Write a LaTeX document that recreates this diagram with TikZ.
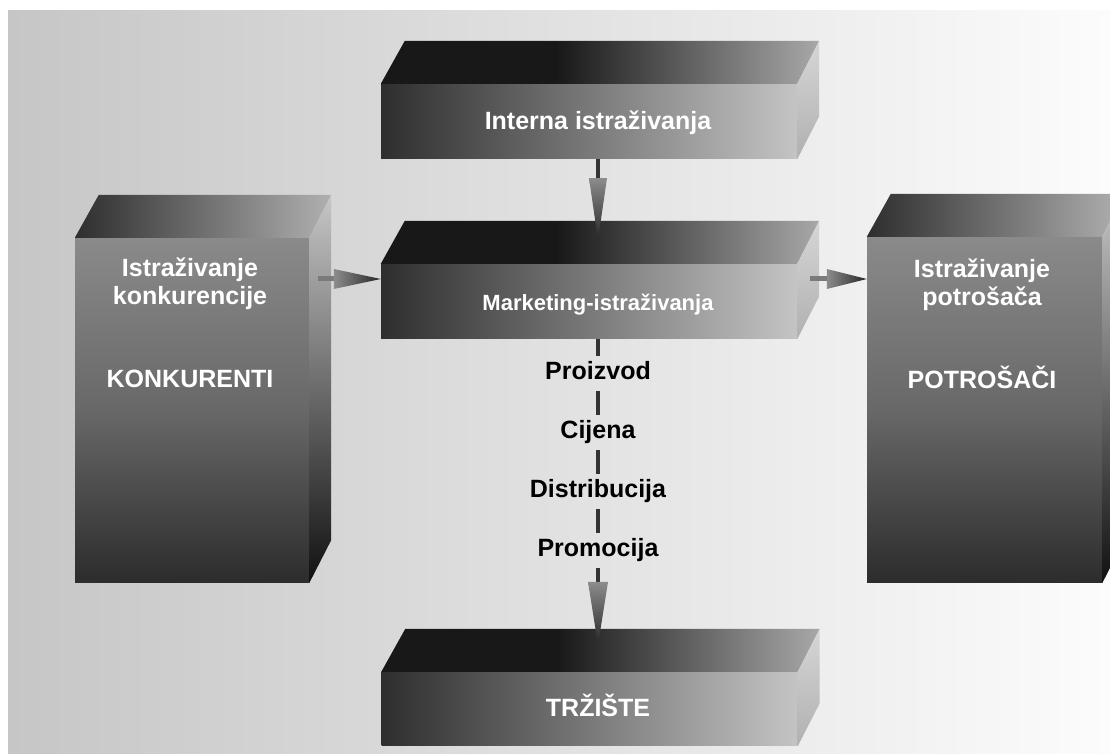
\documentclass[tikz,border=0pt]{standalone}
\usepackage{fontspec}
\setmainfont{Liberation Sans}
\usetikzlibrary{calc}
\definecolor{bgL}{HTML}{C6C6C6}
\definecolor{bgR}{HTML}{FCFCFC}
\definecolor{hfL}{HTML}{2E2E2E}
\definecolor{hfR}{HTML}{C4C4C4}
\definecolor{htA}{HTML}{181818}
\definecolor{htB}{HTML}{A8A8A8}
\definecolor{hsT}{HTML}{D6D6D6}
\definecolor{hsB}{HTML}{B0B0B0}
\definecolor{vfT}{HTML}{8A8A8A}
\definecolor{vfM}{HTML}{686868}
\definecolor{vfB}{HTML}{2C2C2C}
\definecolor{vtA}{HTML}{2E2E2E}
\definecolor{vtB}{HTML}{B0B0B0}
\definecolor{vsT}{HTML}{C6C6C6}
\definecolor{vsB}{HTML}{111111}
\definecolor{shaftH}{HTML}{7A7A7A}
\definecolor{shaftV}{HTML}{333333}
\definecolor{headL}{HTML}{8C8C8C}
\definecolor{headD}{HTML}{262626}
\pgfdeclarehorizontalshading{htopface}{100bp}{color(0bp)=(htA); color(25bp)=(htA); color(45bp)=(htA); color(75bp)=(htB); color(100bp)=(htB)}
\newcommand\boxfaces[3]{%
  \shade[#2] (#1.north west) -- ++(24,43) -- ($(#1.north east)+(22,43)$) -- (#1.north east) -- cycle;
  \shade[#3] (#1.north east) -- ++(22,43) -- ($(#1.south east)+(22,43)$) -- (#1.south east) -- cycle;}
\begin{document}
\begin{tikzpicture}[x=1pt,y=1pt,
  hbox/.style={rectangle, inner sep=0pt, minimum width=416pt, minimum height=75pt, left color=hfL, right color=hfR},
  vbox/.style={rectangle, inner sep=0pt, minimum width=234pt, minimum height=345pt, top color=vfT, bottom color=vfB, middle color=vfM},
  htop/.style={shading=htopface},
  hside/.style={top color=hsT, bottom color=hsB},
  vtop/.style={left color=vtA, right color=vtB},
  vside/.style={top color=vsT, bottom color=vsB},
  boxtext/.style={text=white, font=\fontsize{25}{30}\selectfont\bfseries, anchor=base, inner sep=0pt},
  smalltext/.style={boxtext, font=\fontsize{22}{26}\selectfont\bfseries},
  lbl/.style={text=black, font=\fontsize{25}{30}\selectfont\bfseries, anchor=base, text height=18pt, text depth=5pt, inner xsep=2pt, inner ysep=6pt},
  vshaft/.style={draw=shaftV, line width=4pt},
  hshaft/.style={draw=shaftH, line width=5pt},
  vhead/.style={top color=headL, bottom color=headD},
  hhead/.style={left color=headL, right color=headD}]
\useasboundingbox (0,0) rectangle (1110,754);
\clip (0,0) rectangle (1110,754);
\shade[left color=bgL, right color=bgR] (8,0) rectangle (1110,743);

% boxes (front faces)
\node[hbox] (int) at (589,632.5) {};
\boxfaces{int}{htop}{hside}
\node[hbox] (mar) at (589,452.5) {};
\boxfaces{mar}{htop}{hside}
\node[hbox, minimum height=74pt] (trz) at (589.5,45) {};
\boxfaces{trz}{htop}{hside}
\node[vbox] (kon) at (192,343.5) {};
\boxfaces{kon}{vtop}{vside}
\node[vbox, minimum width=235pt, minimum height=346pt] (pot) at (984.5,344) {};
\boxfaces{pot}{vtop}{vside}

% texts in boxes
\node[boxtext] (intT) at (598,624) {Interna istraživanja};
\node[smalltext] (marT) at (598,443) {Marketing-istraživanja};
\node[boxtext] (trzT) at (598,37) {TRŽIŠTE};
\node[boxtext] (konT1) at (190,477) {Istraživanje};
\node[boxtext] (konT2) at (190,449) {konkurencije};
\node[boxtext] (konT3) at (190,366) {KONKURENTI};
\node[boxtext] (potT1) at (982,476) {Istraživanje};
\node[boxtext] (potT2) at (982,448) {potrošača};
\node[boxtext] (potT3) at (982,365) {POTROŠAČI};

% axis helpers
\coordinate (ax) at (598,0);
\coordinate (ay) at (0,475);

% labels along the vertical connector
\node[lbl] (p1) at (598,374) {Proizvod};
\node[lbl] (p2) at (598,315) {Cijena};
\node[lbl] (p3) at (598,256) {Distribucija};
\node[lbl] (p4) at (598,197) {Promocija};

% arrow: Interna -> Marketing
\coordinate (h1b) at ($(int.south -| ax)+(0,-19)$);
\coordinate (h1t) at ($(mar.north -| ax)+(0,24)$);
\draw[vshaft] (int.south -| ax) -- (h1b);
\shade[vhead] ($(h1b)+(-9,0)$) -- ($(h1b)+(9,0)$) -- (h1t) -- cycle;

% arrow: Marketing -> Trziste through labels
\draw[vshaft] (mar.south -| ax) -- (p1.north);
\draw[vshaft] (p1.south) -- (p2.north);
\draw[vshaft] (p2.south) -- (p3.north);
\draw[vshaft] (p3.south) -- (p4.north);
\coordinate (h2b) at (598,172);
\coordinate (h2t) at ($(trz.north -| ax)+(0,27)$);
\draw[vshaft] (p4.south) -- (h2b);
\shade[vhead] ($(h2b)+(-10,0)$) -- ($(h2b)+(10,0)$) -- (h2t) -- cycle;

% arrow: Konkurenti -> Marketing
\coordinate (h3s) at ($(kon.east |- ay)+(9,0)$);
\coordinate (h3b) at ($(mar.west |- ay)+(-47,0)$);
\draw[hshaft] (h3s) -- (h3b);
\shade[hhead] ($(h3b)+(0,10)$) -- ($(h3b)+(0,-10)$) -- (mar.west |- ay) -- cycle;

% arrow: Marketing -> Potrosaci
\coordinate (h4s) at ($(mar.east |- ay)+(13,0)$);
\coordinate (h4b) at ($(pot.west |- ay)+(-40,0)$);
\draw[hshaft] (h4s) -- (h4b);
\shade[hhead] ($(h4b)+(0,10)$) -- ($(h4b)+(0,-10)$) -- (pot.west |- ay) -- cycle;
\end{tikzpicture}
\end{document}
